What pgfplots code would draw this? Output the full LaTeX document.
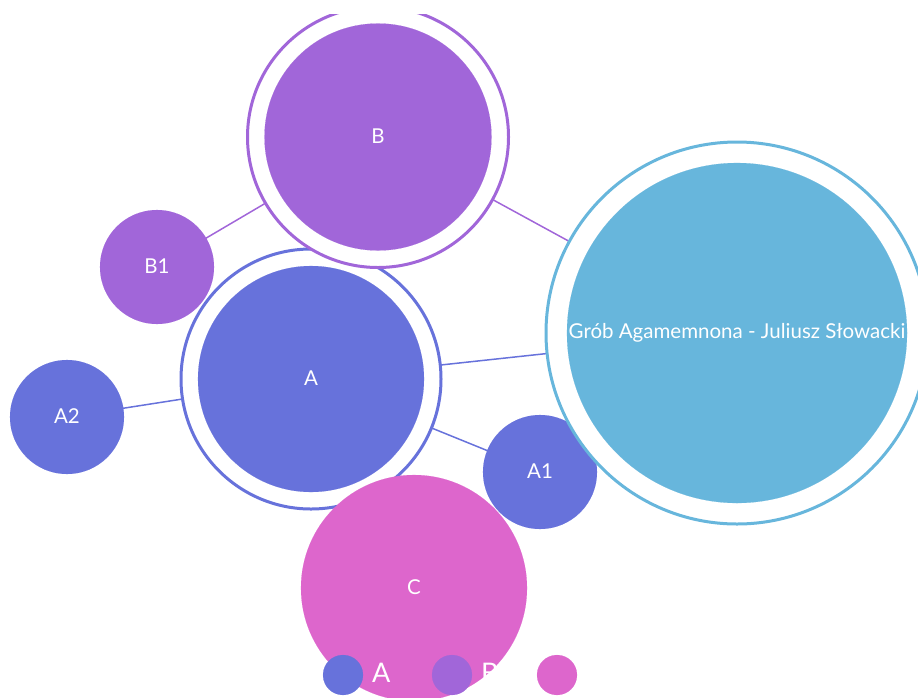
\documentclass[border=0pt]{standalone}
\usepackage{pgfplots}
\pgfplotsset{compat=1.18}
\usepackage{fontspec}
\setmainfont{Lato}
\definecolor{cA}{HTML}{6772DB}
\definecolor{cB}{HTML}{A166D9}
\definecolor{cG}{HTML}{67B6DC}
\definecolor{cC}{HTML}{DD66CC}
\pgfplotsset{
  ring/.style 2 args={color=#2, only marks, mark=*, mark size=#1, mark options={fill=white, draw=#2, line width=3pt}},
  disc/.style 2 args={color=#2, only marks, mark=*, mark size=#1, mark options={draw=#2, fill=#2, line width=0.1pt}},
  lbl/.style={only marks, mark=none, nodes near coords, point meta=explicit symbolic,
    nodes near coords align=center,
    nodes near coords style={anchor=center, text=white, inner sep=0pt, text depth=0pt,
      font=\fontsize{20.5}{22}\selectfont}},
  leglbl/.style={only marks, mark=none, nodes near coords, point meta=explicit symbolic,
    nodes near coords align=west,
    nodes near coords style={anchor=west, text=white, inner sep=0pt, text depth=0pt,
      font=\fontsize{27}{30}\selectfont}},
}
\begin{document}
\begin{tikzpicture}
\begin{axis}[
  width=918pt, height=683pt, scale only axis,
  xmin=0, xmax=918, ymin=14, ymax=697, y dir=reverse,
  hide axis, clip marker paths=true,
]
% links
\addplot[cA, line width=1.5pt] coordinates {(67,417) (311,379)};
\addplot[cA, line width=1.5pt] coordinates {(311,379) (737,333)};
\addplot[cA, line width=1.5pt] coordinates {(311,379) (540,472)};
\addplot[cB, line width=1.5pt] coordinates {(157,267) (378,137)};
\addplot[cB, line width=1.5pt] coordinates {(378,137) (737,333)};
% A group
\addplot[ring={130}{cA}] coordinates {(311,379)};
\addplot[disc={113}{cA}] coordinates {(311,379)};
\addplot[disc={57}{cA}] coordinates {(540,472)};
\addplot[disc={57}{cA}] coordinates {(67,417)};
% B group
\addplot[ring={130.5}{cB}] coordinates {(378,137)};
\addplot[disc={113.5}{cB}] coordinates {(378,137)};
\addplot[disc={57}{cB}] coordinates {(157,267)};
% Grob
\addplot[ring={191}{cG}] coordinates {(737,333)};
\addplot[disc={170}{cG}] coordinates {(737,333)};
% C
\addplot[disc={113}{cC}] coordinates {(414,588)};
% labels
\addplot[lbl] coordinates {(311,378)[A] (378,136)[B] (157,266)[B1] (67,416)[A2] (540,471)[A1] (414,587)[C] (737,331)[{Grób Agamemnona - Juliusz Słowacki}]};
% legend
\addplot[disc={20}{cA}] coordinates {(343,675)};
\addplot[disc={20}{cB}] coordinates {(452,675)};
\addplot[disc={20}{cC}] coordinates {(557,675)};
\addplot[leglbl] coordinates {(372,672.5)[A] (481,672.5)[B] (587,672.5)[C]};
\end{axis}
\pgfresetboundingbox
\path (current axis.south west) rectangle ([yshift=14pt]current axis.north east);
\end{tikzpicture}
\end{document}
